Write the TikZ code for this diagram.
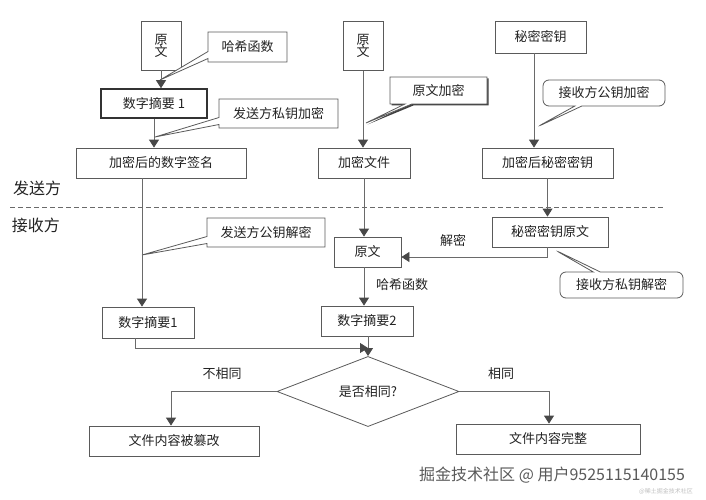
\documentclass[tikz,border=0pt]{standalone}
\usepackage{fontspec}
\setmainfont{Noto Sans CJK SC}
\usetikzlibrary{arrows.meta,shapes.geometric,shapes.callouts,shadows}
\definecolor{lin}{HTML}{6A6A6A}
\definecolor{edge}{HTML}{5A5A5A}
\definecolor{txt}{HTML}{222222}

\begin{document}
\begin{tikzpicture}[font=\fontsize{13}{15}\selectfont, text=txt]
            \tikzset{x=1pt, y=-1pt}
            \tikzstyle{blk}=[rectangle, draw=edge, fill=white, inner sep=0pt, line width=0.8pt]
            \tikzstyle{note}=[rectangle callout, draw=edge, fill=white, inner sep=0pt, line width=0.8pt, callout pointer width=7pt]
            \tikzstyle{rnote}=[note, rounded corners=6pt]
            \tikzstyle{arr}=[draw=lin, line width=0.8pt, -{Triangle[length=8pt, width=10pt, color=edge!80!black]}]
            \tikzstyle{lab}=[inner sep=1pt]

            \useasboundingbox (0,0) rectangle (706,500);

            % pointer tips of the notes
            \coordinate (t1) at (160, 80);
            \coordinate (t2) at (155, 137);
            \coordinate (t3) at (366, 123);
            \coordinate (t4) at (537, 127);
            \coordinate (t5) at (555, 250);
            \coordinate (t6) at (142, 255);
            \coordinate (jn) at (368, 348);

            % sender
            \draw (161, 45.5)   node[blk, minimum width=40, minimum height=49, align=center]    (src1)  {原\\[-3pt]文};
            \draw (154, 103.5)  node[blk, minimum width=106, minimum height=29, line width=1.6pt, draw=black!80] (dig1) {数字摘要 1};
            \draw (161, 163)    node[blk, minimum width=170, minimum height=30]  (sig)   {加密后的数字签名};
            \draw (363, 46)     node[blk, minimum width=40, minimum height=49, align=center]    (src2)  {原\\[-3pt]文};
            \draw (364, 163)    node[blk, minimum width=92, minimum height=30]   (encf)  {加密文件};
            \draw (540.5, 37)   node[blk, minimum width=91, minimum height=32]   (key)   {秘密密钥};
            \draw (547.5, 163)  node[blk, minimum width=131, minimum height=30]  (enck)  {加密后秘密密钥};

            \draw (247.5, 47)   node[note, minimum width=79, minimum height=30, callout absolute pointer={(t1)}]  (n1) {哈希函数};
            \draw (278.5, 113.5) node[note, minimum width=119, minimum height=29, callout absolute pointer={(t2)}] (n2) {发送方私钥加密};
            \draw (438.5, 90.5) node[note, minimum width=97, minimum height=27, callout absolute pointer={(t3)},
                                     drop shadow={shadow xshift=1.5pt, shadow yshift=-1.5pt, opacity=1, fill=black!75}] (n3) {原文加密};
            \draw (604, 93)     node[rnote, minimum width=122, minimum height=26, callout absolute pointer={(t4)}] (n4) {接收方公钥加密};

            % split line
            \draw (37, 188)     node[lab, font=\fontsize{16}{18}\selectfont] (snd) {发送方};
            \draw (36, 225)     node[lab, font=\fontsize{16}{18}\selectfont] (rcv) {接收方};
            \draw [draw=lin, line width=0.8pt, dash pattern=on 5pt off 3pt] (10, 207) coordinate (d0) -- (665, 207) coordinate (d1);

            % receiver
            \draw (550, 232)    node[blk, minimum width=116, minimum height=30]  (keyr)  {秘密密钥原文};
            \draw (367.5, 252)  node[blk, minimum width=67, minimum height=30]   (srcr)  {原文};
            \draw (148, 322.5)  node[blk, minimum width=92, minimum height=31]   (dgr1)  {数字摘要1};
            \draw (367, 321)    node[blk, minimum width=92, minimum height=30]   (dgr2)  {数字摘要2};
            \draw (368, 391.5)  node[diamond, draw=edge, fill=white, line width=0.8pt, inner sep=0pt, minimum width=182, minimum height=49] (cmp) {是否相同?};
            \draw (174, 441)    node[blk, minimum width=170, minimum height=30]  (bad)   {文件内容被篡改};
            \draw (548, 439)    node[blk, minimum width=184, minimum height=30]  (good)  {文件内容完整};

            \draw (266, 232.5)  node[note, minimum width=118, minimum height=29, callout absolute pointer={(t6)}] (n6) {发送方公钥解密};
            \draw (621.5, 285)  node[rnote, minimum width=123, minimum height=26, callout absolute pointer={(t5)}] (n5) {接收方私钥解密};

            \draw (453, 241)    node[lab]   (l1)    {解密};
            \draw (402, 285)    node[lab]   (l2)    {哈希函数};
            \draw (222, 374)    node[lab]   (l3)    {不相同};
            \draw (501, 374)    node[lab]   (l4)    {相同};

            \draw [arr]     (src1) -- (src1 |- dig1.north);
            \draw [arr]     (dig1) -- (dig1 |- sig.north);
            \draw [arr]     (src2) -- (src2 |- encf.north);
            \draw [arr]     ([xshift=-6.5pt]key.south) -- ([xshift=-6.5pt]key.south |- enck.north);
            \draw [arr]     ([xshift=-19pt]sig.south) -- ([xshift=-19pt]sig.south |- dgr1.north);
            \draw [arr]     (enck) -- (enck |- keyr.north);
            \draw [arr]     (encf) -- (encf |- srcr.north);
            \draw [arr]     (keyr.south -| enck) |- ([yshift=-5pt]srcr.east);
            \draw [arr]     (srcr.south -| encf) -- (encf |- dgr2.north);
            \draw [arr]     ([xshift=-13pt]dgr1.south) |- (jn);
            \draw [arr]     (dgr2.south -| cmp) -- (cmp.north);
            \draw [arr]     (cmp.west) -| ([xshift=-3pt]bad.north);
            \draw [arr]     (cmp.east) -| ([xshift=1pt]good.north);

            % site mark
            \draw (418, 475)    node[lab, anchor=west, text=black!65, font=\fontsize{16}{18}\selectfont] (wm) {掘金技术社区 @ 用户9525115140155};
            \draw (693, 491)    node[lab, anchor=east, inner sep=0pt, text=black!25, font=\fontsize{6}{7}\selectfont] (wm2) {@稀土掘金技术社区};
        \end{tikzpicture}
\end{document}
